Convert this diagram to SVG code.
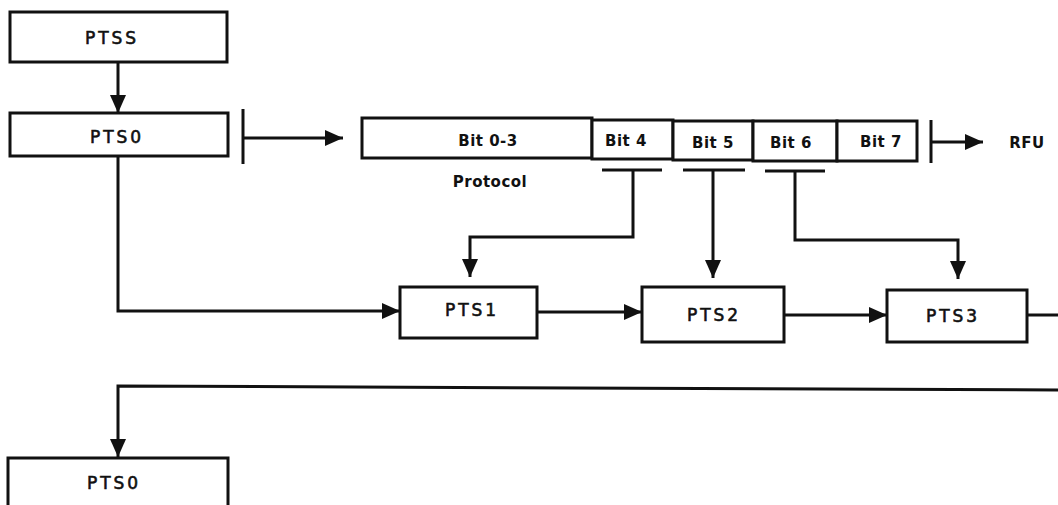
<svg xmlns="http://www.w3.org/2000/svg" width="1058" height="505" viewBox="0 0 1058 505">
<style>
.box{fill:#fff;stroke:#111;stroke-width:3}
.ln{fill:none;stroke:#111;stroke-width:3}
.arr{marker-end:url(#ah)}
.t{font-family:"DejaVu Sans",Verdana,sans-serif;font-size:17px;letter-spacing:3px;fill:#111;stroke:#111;stroke-width:0.6px;text-anchor:middle}
.b{font-family:"DejaVu Sans",Verdana,sans-serif;font-size:15px;font-weight:bold;letter-spacing:0.5px;fill:#111;text-anchor:middle}
.s{font-family:"DejaVu Sans",Verdana,sans-serif;font-size:15px;font-weight:bold;letter-spacing:0.5px;fill:#111;text-anchor:middle}
</style>
<defs>
<marker id="ah" markerUnits="userSpaceOnUse" markerWidth="20" markerHeight="18" refX="18" refY="8" orient="auto">
<path d="M0,0 L18,8 L0,16 z" fill="#111"/>
</marker>
</defs>
<rect width="1058" height="505" fill="#fff"/>
<g id="connectors">
<line class="ln arr" x1="118" y1="62" x2="118" y2="113"/>
<line class="ln" x1="243" y1="109" x2="243" y2="164"/>
<line class="ln arr" x1="243" y1="138" x2="343" y2="138"/>
<line class="ln" x1="931" y1="120" x2="931" y2="163"/>
<line class="ln arr" x1="931" y1="142" x2="983" y2="142"/>
<line class="ln" x1="602" y1="170" x2="662" y2="170"/>
<line class="ln" x1="683" y1="170" x2="745" y2="170"/>
<line class="ln" x1="765" y1="171" x2="825" y2="171"/>
<polyline class="ln arr" points="633,170 633,237 470,237 470,277"/>
<line class="ln arr" x1="713" y1="170" x2="713" y2="278"/>
<polyline class="ln arr" points="795,171 795,240 958,240 958,279"/>
<polyline class="ln arr" points="118,156 118,311 400,311"/>
<line class="ln arr" x1="537" y1="312" x2="642" y2="312"/>
<line class="ln arr" x1="784" y1="315" x2="887" y2="315"/>
<line class="ln" x1="1027" y1="315" x2="1058" y2="315"/>
<polyline class="ln arr" points="1058,390 118,386 118,457"/>
</g>
<g id="ptss">
<rect class="box" x="10" y="12" width="217" height="50"/>
<text class="t" x="112" y="44">PTSS</text>
</g>
<g id="pts0">
<rect class="box" x="10" y="113" width="218" height="43"/>
<text class="t" x="117" y="143">PTS0</text>
</g>
<g id="bitfield">
<rect class="box" x="362" y="118" width="230" height="40"/>
<rect class="box" x="592" y="120" width="81" height="39"/>
<rect class="box" x="673" y="121" width="80" height="39"/>
<rect class="box" x="753" y="121" width="84" height="40"/>
<rect class="box" x="837" y="121" width="80" height="40"/>
<text class="b" x="488" y="146">Bit 0-3</text>
<text class="b" x="626" y="146">Bit 4</text>
<text class="b" x="713" y="148">Bit 5</text>
<text class="b" x="791" y="148">Bit 6</text>
<text class="b" x="881" y="147">Bit 7</text>
</g>
<g id="protocol-label"><text class="s" x="490" y="187">Protocol</text></g>
<g id="rfu-label"><text class="s" x="1027" y="148">RFU</text></g>
<g id="pts1">
<rect class="box" x="400" y="287" width="137" height="51"/>
<text class="t" x="472" y="316">PTS1</text>
</g>
<g id="pts2">
<rect class="box" x="642" y="287" width="142" height="55"/>
<text class="t" x="714" y="321">PTS2</text>
</g>
<g id="pts3">
<rect class="box" x="887" y="290" width="140" height="52"/>
<text class="t" x="953" y="322">PTS3</text>
</g>
<g id="pts0-next">
<rect class="box" x="8" y="458" width="220" height="60"/>
<text class="t" x="114" y="489">PTS0</text>
</g>
</svg>
